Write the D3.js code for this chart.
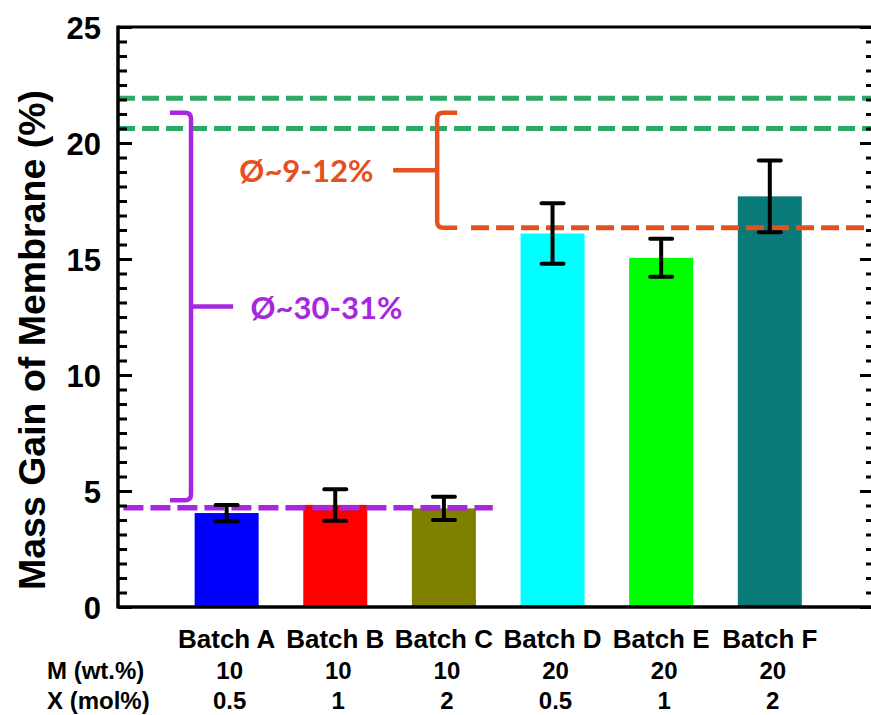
<!DOCTYPE html>
<html>
<head>
<meta charset="utf-8">
<script src="https://cdn.jsdelivr.net/npm/d3@7"></script>
<style>
  body { margin: 0; background: #fff; }
  svg { display: block; }
  .tick text { font-family: "Liberation Sans", Arial, sans-serif; font-weight: bold; }
</style>
</head>
<body>
<svg id="chart" width="871" height="715"></svg>
<script>
// ----- data -----
var batches = ["Batch A", "Batch B", "Batch C", "Batch D", "Batch E", "Batch F"];
var massGain = [4.05, 4.4, 4.25, 16.1, 15.05, 17.7];
var massErr = [0.35, 0.68, 0.5, 1.3, 0.82, 1.55];
var mValues = ["10", "10", "10", "20", "20", "20"];
var xValues = ["0.5", "1", "2", "0.5", "1", "2"];
var rowLabels = ["M (wt.%)", "X (mol%)"];
var yTicks = [0, 5, 10, 15, 20, 25];

// reference levels (mass gain %)
var greenLevels = [21.93, 20.63];
var orangeLevel = 16.35;
var purpleLevel = 4.28;
var purpleRange = [4.6, 21.3];
var orangeRange = [16.35, 21.3];
var purpleLabel = "Ø~30-31%";
var orangeLabel = "Ø~9-12%";

var barColors = ["#0000ff", "#ff0000", "#808000", "#00ffff", "#00ff00", "#087a7a"];
var green = "#2fa866", orange = "#e4511f", purple = "#a627df";

var svg = d3.select("#chart");
var plotL = 118, plotR = 873, plotT = 27, plotB = 607;

var x = d3.scaleLinear().domain([0, 6.95]).range([plotL, plotR]);
var y = d3.scaleLinear().domain([0, 25]).range([plotB, plotT]);
var barW = 64;

function dashed(v, x0, x1, color, dash, w) {
  svg.append("line")
    .attr("x1", x(x0)).attr("x2", x(x1))
    .attr("y1", y(v)).attr("y2", y(v))
    .attr("stroke", color).attr("stroke-width", w)
    .attr("stroke-dasharray", dash);
}

// ----- bars -----
svg.selectAll("rect.bar").data(massGain).enter().append("rect")
  .attr("class", "bar")
  .attr("x", function(d, i) { return x(i + 1) - barW / 2; })
  .attr("y", function(d) { return y(d); })
  .attr("width", barW)
  .attr("height", function(d) { return y(0) - y(d); })
  .attr("fill", function(d, i) { return barColors[i]; });

greenLevels.forEach(function(v) { dashed(v, 0, 6.95, green, "17 7", 5); });
dashed(orangeLevel, 3.25, 6.95, orange, "18 7", 5);
dashed(purpleLevel, 0.05, 3.45, purple, "20 7", 5.5);

// ----- error bars -----
var eb = svg.append("g").attr("stroke", "black").attr("stroke-width", 4);
massGain.forEach(function(d, i) {
  var cx = x(i + 1);
  eb.append("line").attr("x1", cx).attr("x2", cx)
    .attr("y1", y(d + massErr[i])).attr("y2", y(d - massErr[i]));
  [d + massErr[i], d - massErr[i]].forEach(function(v) {
    eb.append("line").attr("x1", cx - 11).attr("x2", cx + 11)
      .attr("y1", y(v)).attr("y2", y(v)).attr("stroke-linecap", "round");
  });
});

// ----- brackets -----
function bracket(range, xv, hook, tickTo, color) {
  var t = y(range[1]), b = y(range[0]), r = 6, s = Math.sign(hook);
  var p = "M" + (xv + hook) + "," + t + " L" + (xv + s * r) + "," + t +
          " Q" + xv + "," + t + " " + xv + "," + (t + r) +
          " L" + xv + "," + (b - r) +
          " Q" + xv + "," + b + " " + (xv + s * r) + "," + b +
          " L" + (xv + hook) + "," + b;
  svg.append("path").attr("d", p).attr("fill", "none")
    .attr("stroke", color).attr("stroke-width", 4.5);
  var mid = (t + b) / 2;
  svg.append("line").attr("x1", xv).attr("x2", tickTo)
    .attr("y1", mid).attr("y2", mid)
    .attr("stroke", color).attr("stroke-width", 4.5);
  return mid;
}
var pm = bracket(purpleRange, x(0.672), -21, x(1.06), purple);
var om = bracket(orangeRange, x(2.938), 20, x(2.533), orange);

svg.append("text").attr("x", x(1.22)).attr("y", pm + 12)
  .attr("font-family", "Lato, 'Open Sans', sans-serif").attr("font-weight", "bold")
  .attr("font-size", 31).attr("fill", purple).text(purpleLabel);
svg.append("text").attr("x", x(2.35)).attr("y", om + 12).attr("text-anchor", "end")
  .attr("font-family", "Lato, 'Open Sans', sans-serif").attr("font-weight", "bold")
  .attr("font-size", 31).attr("fill", orange).text(orangeLabel);

// ----- axes -----
var minor = d3.range(0, 25.001, 0.625);

var gl = svg.append("g").attr("transform", "translate(" + plotL + ",0)");
gl.call(d3.axisLeft(y).tickValues(minor).tickSize(-9).tickFormat(""));
gl.selectAll("line").attr("stroke-width", 3);
gl.select(".domain").remove();
var glM = svg.append("g").attr("transform", "translate(" + plotL + ",0)");
glM.call(d3.axisLeft(y).tickValues(yTicks).tickSize(-14));
glM.selectAll("line").attr("stroke-width", 3);
glM.select(".domain").remove();
glM.selectAll("text").attr("font-size", 31).attr("x", -17).attr("dy", "0.36em");

var gr = svg.append("g").attr("transform", "translate(" + plotR + ",0)");
gr.call(d3.axisRight(y).tickValues(minor).tickSize(-7).tickFormat(""));
gr.selectAll("line").attr("stroke-width", 3);
gr.select(".domain").remove();
var grM = svg.append("g").attr("transform", "translate(" + plotR + ",0)");
grM.call(d3.axisRight(y).tickValues(yTicks).tickSize(-13).tickFormat(""));
grM.selectAll("line").attr("stroke-width", 3);
grM.select(".domain").remove();

// frame
svg.append("line").attr("x1", plotL).attr("x2", plotR).attr("y1", plotT).attr("y2", plotT)
  .attr("stroke", "black").attr("stroke-width", 3);
svg.append("line").attr("x1", plotL).attr("x2", plotR).attr("y1", plotB).attr("y2", plotB)
  .attr("stroke", "black").attr("stroke-width", 3.5);
svg.append("line").attr("x1", plotL).attr("x2", plotL).attr("y1", plotT - 1.5).attr("y2", plotB + 1.5)
  .attr("stroke", "black").attr("stroke-width", 3.5);

// y title
svg.append("text")
  .attr("transform", "translate(45,340) rotate(-90)")
  .attr("text-anchor", "middle")
  .attr("font-family", "'Liberation Sans', Arial, sans-serif").attr("font-weight", "bold")
  .attr("font-size", 37.5).text("Mass Gain of Membrane (%)");

// ----- category labels -----
var lab = svg.append("g")
  .attr("font-family", "'Liberation Sans', Arial, sans-serif").attr("font-weight", "bold")
  .attr("text-anchor", "middle");
lab.selectAll("text.batch").data(batches).enter().append("text")
  .attr("x", function(d, i) { return x(i + 1); }).attr("y", 648)
  .attr("font-size", 26).text(function(d) { return d; });
lab.selectAll("text.m").data(mValues).enter().append("text")
  .attr("x", function(d, i) { return x(i + 1) + 3; }).attr("y", 679)
  .attr("font-size", 24).text(function(d) { return d; });
lab.selectAll("text.xv").data(xValues).enter().append("text")
  .attr("x", function(d, i) { return x(i + 1) + 3; }).attr("y", 709)
  .attr("font-size", 24).text(function(d) { return d; });
lab.selectAll("text.row").data(rowLabels).enter().append("text")
  .attr("x", 47).attr("y", function(d, i) { return 679 + i * 30; })
  .attr("text-anchor", "start")
  .attr("font-size", 24).text(function(d) { return d; });
</script>
</body>
</html>
